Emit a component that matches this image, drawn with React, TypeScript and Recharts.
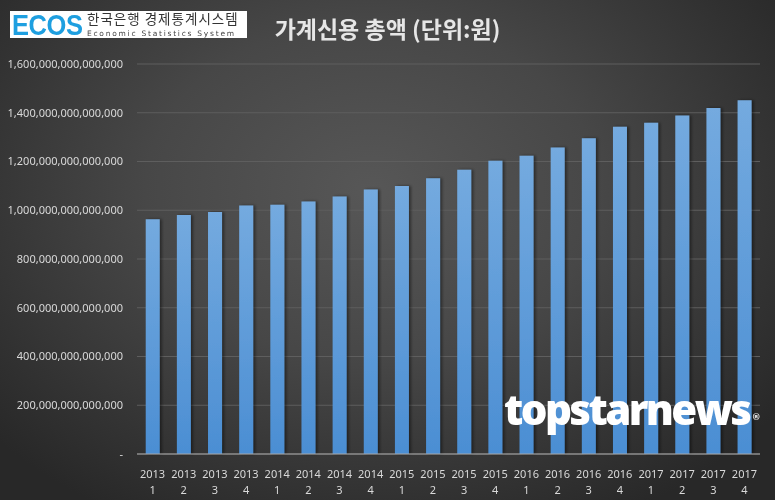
import { BarChart, Bar, XAxis, YAxis, CartesianGrid } from "recharts";

// 가계신용 총액, 분기별 (조원)
const years = [
  "2013", "2013", "2013", "2013",
  "2014", "2014", "2014", "2014",
  "2015", "2015", "2015", "2015",
  "2016", "2016", "2016", "2016",
  "2017", "2017", "2017", "2017",
];
const quarters = ["1", "2", "3", "4", "1", "2", "3", "4", "1", "2", "3", "4", "1", "2", "3", "4", "1", "2", "3", "4"];
const creditTrillion = [
  963.1, 980.6, 992.4, 1019.0,
  1022.4, 1035.9, 1056.4, 1085.3,
  1099.3, 1131.5, 1166.0, 1203.1,
  1223.7, 1257.3, 1295.8, 1342.5,
  1359.1, 1388.3, 1419.1, 1450.8,
];
const yTicks = [0, 2e14, 4e14, 6e14, 8e14, 10e14, 12e14, 14e14, 16e14];

const data = years.map((y, i) => ({
  period: `${y}|${quarters[i]}`,
  value: creditTrillion[i] * 1e12,
}));

const fmtWon = (v: number) => (v === 0 ? "-" : Math.round(v).toLocaleString("en-US"));

function PeriodTick({ x, y, payload }: any) {
  const [yr, q] = String(payload.value).split("|");
  return (
    <g transform={`translate(${x},${y})`}>
      <text textAnchor="middle" fill="#d9d9d9" fontSize={11} fontFamily="'Noto Sans', sans-serif">
        <tspan x={0} dy={16}>{yr}</tspan>
        <tspan x={0} dy={16}>{q}</tspan>
      </text>
    </g>
  );
}

export default function App() {
  return (
    <div
      style={{
        position: "fixed",
        left: 0,
        top: 0,
        width: 775,
        height: 500,
        overflow: "hidden",
        background:
          "radial-gradient(ellipse 65% 75% at 48% 38%, #575757 0%, #474747 45%, #333333 80%, #282828 100%)",
      }}
    >
      {/* ECOS logo */}
      <div
        style={{
          position: "absolute",
          left: 10,
          top: 11,
          width: 237,
          height: 27,
          background: "#ffffff",
          fontFamily: "'Noto Sans CJK KR', sans-serif",
        }}
      >
        <div
          style={{
            position: "absolute",
            left: 2,
            top: 1,
            fontSize: 30,
            lineHeight: "26px",
            fontWeight: 700,
            color: "#1e9fe0",
            fontFamily: "'Liberation Sans', sans-serif",
            letterSpacing: -0.5,
            transform: "scale(0.85, 1)",
            transformOrigin: "left top",
          }}
        >
          ECOS
        </div>
        <div
          style={{
            position: "absolute",
            left: 77,
            top: 0,
            fontSize: 13.5,
            lineHeight: "15px",
            color: "#333",
            letterSpacing: 1.0,
          }}
        >
          한국은행 경제통계시스템
        </div>
        <div
          style={{
            position: "absolute",
            left: 77,
            top: 19,
            fontSize: 7.5,
            lineHeight: "8px",
            color: "#444",
            letterSpacing: 1.75,
            fontFamily: "'DejaVu Sans', sans-serif",
          }}
        >
          Economic Statistics System
        </div>
      </div>

      <div
        style={{
          position: "absolute",
          left: 0,
          width: 775,
          top: 13,
          textAlign: "center",
          fontFamily: "'Noto Sans CJK KR', sans-serif",
          fontWeight: 700,
          fontSize: 23,
          lineHeight: "30px",
          color: "#e6e6e6",
        }}
      >
        가계신용 총액 (단위:원)
      </div>

      <BarChart
        width={775}
        height={500}
        data={data}
        margin={{ top: 64, right: 15, bottom: 0, left: 0 }}
        barCategoryGap="28%"
      >
        <defs>
          <linearGradient id="barFill" x1="0" y1="0" x2="0" y2="1">
            <stop offset="0%" stopColor="#74aadf" />
            <stop offset="100%" stopColor="#4b8ed3" />
          </linearGradient>
          <filter id="barShadow" x="-30%" y="-5%" width="160%" height="110%">
            <feDropShadow dx={2} dy={0} stdDeviation={1.5} floodColor="#000" floodOpacity={0.45} />
          </filter>
        </defs>
        <CartesianGrid vertical={false} stroke="#5e5e5e" strokeWidth={1} />
        <XAxis
          dataKey="period"
          interval={0}
          height={46}
          tick={<PeriodTick />}
          tickLine={false}
          axisLine={{ stroke: "#a6a6a6", strokeWidth: 1 }}
        />
        <YAxis
          width={137}
          domain={[0, 1.6e15]}
          ticks={yTicks}
          tickFormatter={fmtWon}
          tickLine={false}
          axisLine={false}
          tickMargin={8}
          tick={{ fill: "#d9d9d9", fontSize: 11, fontFamily: "'Noto Sans', sans-serif" }}
        />
        <Bar dataKey="value" fill="url(#barFill)" filter="url(#barShadow)" isAnimationActive={false} />
      </BarChart>

      {/* watermark */}
      <div
        style={{
          position: "absolute",
          left: 504,
          top: 380,
          fontFamily: "'Open Sans', sans-serif",
          fontWeight: 800,
          fontSize: 42,
          letterSpacing: -2.6,
          color: "#ffffff",
          lineHeight: "58px",
        }}
      >
        topstarnews
        <span style={{ fontSize: 9, verticalAlign: "top", position: "relative", top: 8, marginLeft: 3, color: "#ddd" }}>®</span>
      </div>
    </div>
  );
}
